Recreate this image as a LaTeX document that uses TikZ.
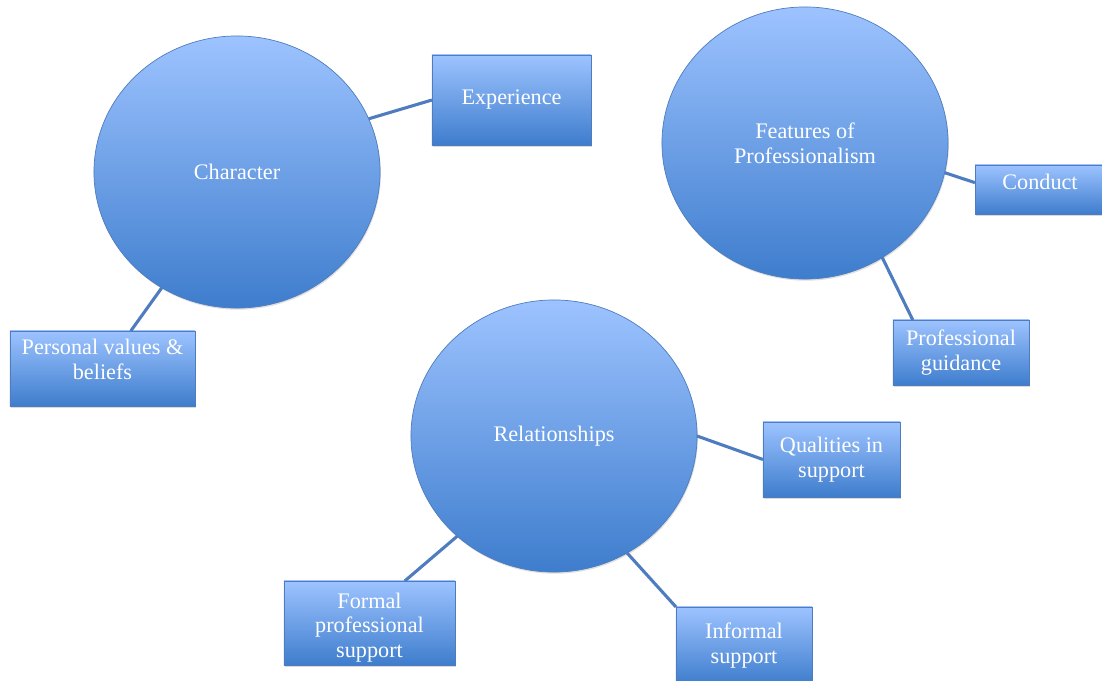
\documentclass[tikz,border=0pt]{standalone}
\usepackage{fontspec}
\setmainfont{Liberation Serif}
\usepackage{tikz}
\usetikzlibrary{shapes,shadows}
\definecolor{lightblue}{RGB}{157,195,255}
\definecolor{darkblue}{RGB}{62,125,205}
\definecolor{rimblue}{RGB}{78,124,190}
\tikzstyle{bubble} = [ellipse, draw=rimblue, line width=0.5pt, top color=lightblue, bottom color=darkblue,
  minimum width=7.15cm, minimum height=6.8cm, inner sep=0pt, outer sep=0pt, text=white, align=center,
  drop shadow={opacity=0.25, shadow xshift=0.6pt, shadow yshift=-1.2pt}]
\tikzstyle{topic} = [rectangle, draw=rimblue, line width=0.6pt, top color=lightblue, bottom color=darkblue,
  inner sep=0pt, outer sep=0pt, text=white, align=center,
  drop shadow={opacity=0.3, shadow xshift=0.8pt, shadow yshift=-1.2pt}]
\tikzstyle{line} = [draw=rimblue, line width=2.2pt]
% text set off the middle of its box
\newcommand{\liftup}[2]{\raisebox{#1}[0pt][0pt]{\begin{tabular}{@{}c@{}}#2\end{tabular}}}

\begin{document}
\begin{tikzpicture}[x=0.025cm, y=-0.025cm, font=\fontsize{15.8}{17.7}\selectfont]
      \clip (0,0) rectangle (1102,681);

      % the three main circles
      \node[bubble] (char) at (237, 172) {Character};
      \node[bubble] (feat) at (805, 143) {Features of\\Professionalism};
      \node[bubble] (rel)  at (554, 436) {Relationships};

      % the boxes round them
      \node[topic, minimum width=3.975cm, minimum height=2.25cm]  (exp)    at (511.5, 100)   {Experience};
      \node[topic, minimum width=4.625cm, minimum height=1.875cm] (pv)     at (102.5, 368.5) {\liftup{0.035cm}{Personal values \&\\beliefs}};
      \node[topic, minimum width=3.25cm,  minimum height=1.225cm] (cond)   at (1040, 189.5)  {\liftup{0.01cm}{Conduct}};
      \node[topic, minimum width=3.4cm,   minimum height=1.625cm] (pg)     at (961, 352.5)   {Professional\\guidance};
      \node[topic, minimum width=3.425cm, minimum height=1.875cm] (qual)   at (831.5, 459.5) {Qualities in\\support};
      \node[topic, minimum width=4.275cm, minimum height=2.1cm]   (formal) at (369.5, 623)   {\liftup{-0.25cm}{Formal\\professional\\support}};
      \node[topic, minimum width=3.4cm,   minimum height=1.925cm] (inf)    at (744, 645.5)   {Informal\\support};

      % links
      \path[line] (char.22)  -- (exp.west);
      \path[line] (char.237) -- (pv.53);
      \path[line] (feat.348) -- (cond.174);
      \path[line] (feat.304) -- (pg.146);
      \path[line] (rel.east) -- (qual.west);
      \path[line] (rel.226)  -- (formal.50);
      \path[line] (rel.302)  -- (inf.north west);
\end{tikzpicture}
\end{document}
